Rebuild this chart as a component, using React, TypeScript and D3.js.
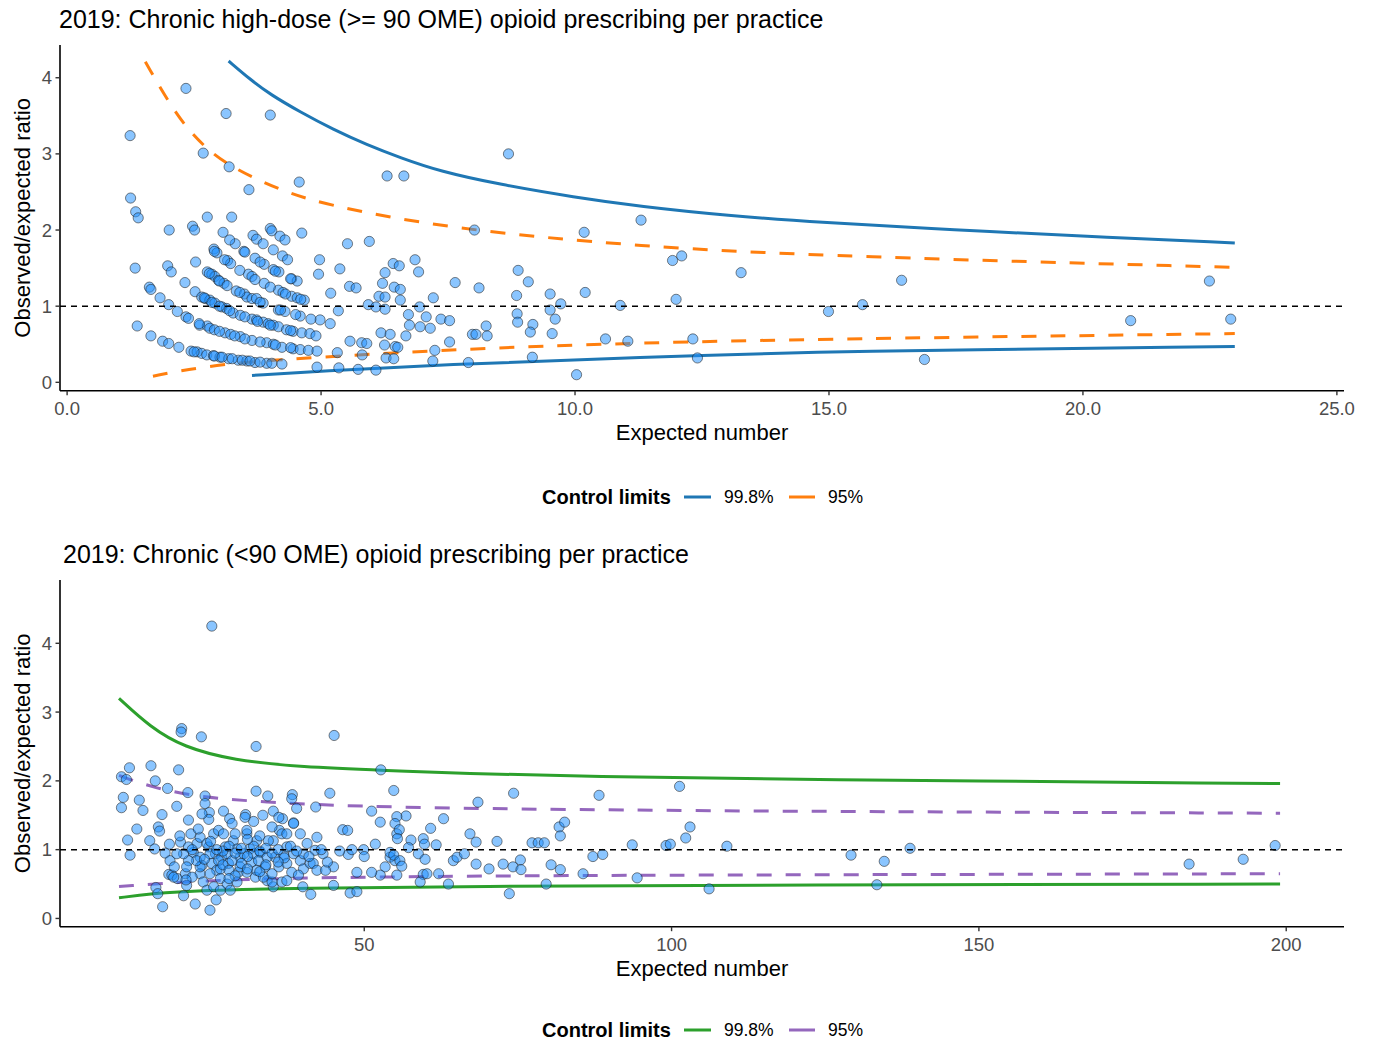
import React, { useEffect } from 'react';
import * as d3 from 'd3';

const topTitle = "2019: Chronic high-dose (>= 90 OME) opioid prescribing per practice";
const bottomTitle = "2019: Chronic (<90 OME) opioid prescribing per practice";
const xAxisTitle = "Expected number";
const yAxisTitle = "Observed/expected ratio";
const legendTitle = "Control limits";
const legendLabels = ["99.8%", "95%"];

const topXTicks = [0, 5, 10, 15, 20, 25];
const topYTicks = [0, 1, 2, 3, 4];
const bottomXTicks = [50, 100, 150, 200];
const bottomYTicks = [0, 1, 2, 3, 4];

// Top panel: practices (expected number, observed/expected ratio)
const topPoints: [number, number][] = [
  [1.24,3.24],[2.34,3.86],[3.13,3.53],[4.0,3.51],[2.68,3.01],[3.19,2.83],[3.58,2.53],[4.57,2.63],[6.3,2.71],[6.63,2.71],[8.69,3.0],
  [1.25,2.42],[1.35,2.24],[1.40,2.16],[1.34,1.50],[1.38,0.74],[1.62,1.25],[1.65,1.22],[1.65,0.61],[1.83,1.11],[1.88,0.54],[2.0,0.51],
  [2.0,1.02],[2.01,2.0],[1.98,1.53],[2.05,1.45],[2.17,0.93],[2.2,0.46],[2.32,1.31],[2.34,0.86],[2.39,0.84],[2.47,2.05],[2.51,2.0],
  [2.53,1.58],[2.44,0.41],[2.52,1.19],[2.61,0.75],[2.56,0.40],[2.65,0.38],[2.65,1.12],[2.72,1.10],[2.76,2.17],[2.76,1.45],[2.85,1.42],
  [2.76,0.74],[2.81,0.71],[2.75,0.36],[2.88,0.35],[2.89,1.75],[2.95,1.70],[2.91,1.39],[2.98,1.34],[3.09,1.30],[2.81,1.08],[2.91,1.04],
  [3.05,0.99],[3.14,0.97],[3.27,0.91],[3.41,0.88],[3.11,0.65],[3.22,0.63],[3.41,0.60],[3.64,0.55],[3.01,0.33],[3.18,0.31],[3.37,0.29],
  [3.54,0.28],[3.7,0.26],[3.07,1.97],[3.24,2.17],[3.16,1.60],[3.22,1.56],[3.31,1.82],[3.33,1.20],[3.48,1.72],[3.49,1.16],[3.57,1.42],
  [3.64,1.39],[3.54,1.12],[3.64,1.10],[3.73,1.10],[3.66,1.93],[3.73,1.88],[3.86,1.82],[3.70,1.63],[3.88,1.55],[3.88,1.30],[3.86,1.04],
  [3.64,0.83],[3.73,0.82],[3.86,0.79],[3.96,0.77],[4.06,0.75],[4.16,0.73],[3.93,0.52],[4.06,0.50],[4.23,0.46],[3.93,0.25],[4.03,0.25],
  [4.23,0.24],[4.0,2.02],[4.03,1.99],[4.19,1.92],[4.29,1.87],[4.06,1.74],[4.24,1.66],[4.34,1.61],[4.06,1.48],[4.17,1.45],[4.42,1.36],
  [4.53,1.33],[4.16,1.21],[4.25,1.18],[4.42,1.13],[4.53,1.11],[4.67,1.08],[4.16,0.95],[4.29,0.93],[4.59,0.87],[4.32,0.69],[4.45,0.67],
  [4.62,0.65],[4.78,0.64],[4.45,0.44],[4.59,0.43],[4.75,0.42],[4.92,0.41],[4.62,1.96],[4.97,1.61],[4.95,1.42],[5.19,1.17],[4.98,0.82],
  [5.18,0.77],[4.92,0.20],[5.52,1.82],[5.95,1.85],[5.37,1.49],[5.56,1.26],[5.69,1.24],[5.34,0.94],[5.32,0.39],[5.57,0.54],[5.8,0.52],
  [5.9,0.51],[5.81,0.36],[5.35,0.19],[5.73,0.17],[6.08,0.16],[5.93,1.02],[6.08,0.99],[6.26,0.96],[6.14,1.13],[6.26,1.12],[6.21,1.30],
  [6.26,1.44],[6.42,1.56],[6.54,1.53],[6.44,1.25],[6.56,1.22],[6.56,1.08],[6.18,0.65],[6.36,0.63],[6.25,0.49],[6.46,0.47],[6.51,0.46],
  [6.28,0.32],[6.43,0.31],[6.85,1.61],[6.92,1.45],[7.21,1.11],[6.72,0.89],[7.07,0.86],[6.74,0.75],[6.95,0.73],[7.15,0.71],[6.67,0.61],
  [6.94,0.99],[7.36,0.83],[7.53,0.81],[7.24,0.42],[7.2,0.28],[7.53,0.53],[7.64,1.31],
  [8.02,2.0],[10.18,1.97],[11.3,2.13],[11.92,1.60],[12.1,1.66],[13.27,1.44],[8.88,1.47],[9.08,1.32],[8.11,1.24],[8.85,1.14],[9.51,1.16],
  [10.2,1.18],[9.72,1.03],[10.89,1.01],[11.99,1.09],[14.99,0.93],[9.51,0.95],[9.61,0.83],[8.86,0.90],[8.87,0.79],[9.17,0.76],[9.12,0.66],
  [8.25,0.74],[7.98,0.63],[8.05,0.63],[8.27,0.61],[9.55,0.64],[10.6,0.57],[11.04,0.54],[12.32,0.57],[7.9,0.26],[9.16,0.33],[12.41,0.32],
  [10.03,0.10],[16.43,1.34],[22.49,1.33],[15.66,1.02],[20.94,0.81],[22.91,0.83],[16.88,0.30],
  // overlapping practices along the arcs
  [2.9,0.345],[3.05,0.33],[3.25,0.31],[3.45,0.29],[3.6,0.28],[3.8,0.265],[2.5,0.40],
  [2.6,0.77],[2.9,0.69],[3.0,0.67],[3.3,0.61],[3.5,0.57],[3.8,0.53],[4.1,0.49],[4.4,0.455],
  [2.7,1.11],[2.85,1.05],[3.0,1.0],[3.2,0.94],[3.5,0.86],[3.75,0.80],[4.0,0.75],[4.4,0.68],[4.9,0.61],
  [2.8,1.43],[3.0,1.33],[3.15,1.27],[3.4,1.18],[3.8,1.05],[4.2,0.95],[4.5,0.89],[4.8,0.83],
  [2.9,1.72],[3.1,1.61],[3.4,1.47],[3.7,1.35],[4.0,1.25],[4.3,1.16],[4.6,1.09],
  [3.2,1.87],[3.5,1.71],[3.8,1.58],[4.1,1.46],[4.4,1.36]
];

const topUpper998: [number, number][] = [[3.18,4.22],[3.6,3.98],[4.0,3.78],[4.59,3.55],[5.24,3.32],[5.9,3.12],[6.56,2.95],[7.34,2.77],[8.5,2.6],[10.0,2.43],[11.28,2.31],[13.0,2.19],[14.82,2.10],[17.5,2.0],[20.0,1.92],[22.99,1.83]];
const topLower998: [number, number][] = [[3.64,0.09],[5.0,0.15],[7.34,0.23],[11.28,0.33],[15.22,0.41],[22.99,0.47]];
const topUpper95: [number, number][] = [[1.54,4.21],[2.16,3.49],[2.68,3.10],[3.21,2.83],[4.26,2.50],[5.24,2.31],[7.5,2.02],[11.28,1.78],[15.22,1.65],[22.99,1.51]];
const topLower95: [number, number][] = [[1.69,0.08],[2.36,0.17],[3.27,0.25],[4.06,0.29],[5.24,0.34],[7.5,0.43],[11.28,0.52],[14.99,0.57],[22.99,0.64]];

// Bottom panel
const bottomPoints: [number, number][] = [
  [25.2,4.25],[20.3,2.76],[20.2,2.71],[23.5,2.64],[32.4,2.50],[45.1,2.66],[52.7,2.16],[11.8,2.19],[15.3,2.22],[19.8,2.16],[10.5,2.06],
  [11.3,2.02],[16.0,2.0],[18.0,1.89],[21.3,1.83],[24.1,1.78],[32.4,1.85],[34.3,1.78],[38.3,1.80],[38.2,1.74],[44.4,1.82],[54.8,1.86],
  [10.8,1.76],[10.5,1.61],[13.4,1.72],[14.0,1.57],[19.5,1.63],[17.1,1.51],[24.1,1.67],[24.8,1.54],[24.7,1.44],[23.6,1.52],[27.1,1.56],
  [28.1,1.45],[30.7,1.51],[32.0,1.41],[33.5,1.50],[35.2,1.56],[36.7,1.45],[36.2,1.28],[38.5,1.39],[42.1,1.62],[51.2,1.56],[46.5,1.29],
  [47.3,1.28],[13.0,1.30],[11.5,1.14],[11.9,0.92],[16.5,1.33],[16.7,1.27],[15.1,1.13],[15.9,1.01],[18.3,1.08],[17.6,0.95],[18.4,0.84],
  [18.2,0.64],[16.1,0.45],[16.4,0.36],[17.2,0.17],[18.7,0.63],[19.6,0.58],[20.9,0.65],[21.1,0.48],[20.6,0.33],[22.5,0.21],[24.9,0.12],
  [25.9,0.27],[20.1,1.11],[21.4,1.43],[21.8,1.23],[22.8,1.09],[23.3,1.18],[22.2,0.96],[23.3,0.89],[23.6,0.77],[23.3,0.65],[23.8,0.53],
  [24.4,0.41],[24.7,1.04],[25.5,1.23],[26.3,1.28],[27.1,1.23],[25.8,0.94],[25.2,0.80],[26.0,0.70],[24.9,0.65],[26.6,0.58],[27.4,1.04],
  [26.8,0.89],[27.9,0.80],[27.7,0.50],[28.7,1.13],[28.5,1.38],[29.0,1.23],[29.8,0.89],[29.5,0.67],[29.3,0.53],[30.6,1.47],[30.9,1.23],
  [31.4,1.01],[31.7,0.82],[30.9,0.67],[32.3,0.60],[32.5,1.13],[33.1,0.96],[33.9,0.75],[34.2,0.55],[35.2,1.13],[35.5,0.89],[36.1,0.75],
  [36.9,0.92],[37.4,0.80],[38.2,0.67],[35.2,0.46],[36.6,0.53],[39.0,1.60],[38.5,1.38],[39.6,0.84],[40.1,0.72],[41.2,0.80],[42.0,0.99],
  [43.3,0.94],[42.3,1.18],[45.0,0.75],[47.4,0.93],[48.8,0.67],[47.7,0.37],[48.8,0.39],[40.0,0.46],[41.3,0.35],[45.0,0.48],[49.9,1.0],
  [51.8,1.08],[52.6,1.40],[54.2,0.89],[55.3,1.23],[53.4,0.75],[52.6,0.63],[51.2,0.67],[55.0,0.84],
  [24.9,0.94],[26.3,0.84],[27.7,0.94],[28.5,0.84],[29.3,1.01],[32.0,0.94],[32.8,0.84],[34.2,0.89],[34.4,1.13],[36.6,1.23],[37.4,1.04],
  [38.5,0.94],[30.9,1.28],[30.4,0.94],[29.8,0.75],[32.5,0.70],[33.6,0.60],[26.6,0.72],[23.3,0.75],[22.7,0.84],[21.4,0.84],[24.4,1.09],
  [21.4,1.04],[20.6,0.94],[19.5,0.94],[19.1,0.75],[21.1,0.75],[22.0,0.60],[25.5,0.46],[26.6,0.41],[28.2,0.41],[40.1,0.94],[40.7,1.09],
  [41.7,0.80],[42.3,0.70],[43.7,0.70],[39.3,0.63],[37.4,0.55],[35.0,0.53],[36.1,1.47],[37.4,1.23],[39.6,1.23],
  [27,0.98],[28,1.05],[29,0.95],[30,1.02],[31,0.9],[32,1.05],[33,0.98],[34,1.02],[35,0.95],[36,1.0],[37,0.88],[38,1.05],[25,1.12],
  [26,1.0],[27,0.78],[28,0.7],[29,0.62],[30,0.8],[31,0.72],[33,0.68],[34,0.78],[35,0.65],[31,1.15],[33,1.2],[35,1.33],[36,0.82],
  [39,0.98],[41,0.9],[43,1.0],[44,0.82],[46,0.98],[48,1.0],[50,0.9],[22,1.0],[23,1.3],[24,0.86],[20,1.2],[19,0.6],[21,0.56],[28,0.58],
  [74.3,1.82],[68.5,1.69],[88.2,1.79],[101.3,1.92],[62.9,1.45],[56.8,1.49],[55.3,1.48],[55.0,1.38],[55.7,1.29],[60.8,1.31],[67.2,1.23],
  [68.2,1.11],[55.4,1.16],[57.6,1.14],[59.6,1.16],[59.8,1.08],[57.2,1.03],[61.7,1.07],[71.6,1.12],[77.3,1.10],[78.3,1.10],[79.3,1.10],
  [81.7,1.33],[82.6,1.40],[81.9,1.20],[93.6,1.07],[99.1,1.06],[99.8,1.08],[102.3,1.17],[103.0,1.33],[109.0,1.05],[54.2,0.96],[54.8,0.92],
  [55.8,0.84],[56.1,0.76],[58.8,0.94],[59.9,0.86],[64.5,0.84],[65.1,0.89],[66.3,0.94],[68.2,0.79],[70.3,0.72],[72.6,0.79],[74.2,0.75],
  [75.4,0.85],[75.5,0.71],[80.4,0.78],[81.9,0.71],[87.2,0.90],[88.8,0.93],[59.6,0.64],[60.2,0.65],[62.1,0.65],[59.1,0.53],[63.7,0.50],
  [79.6,0.50],[85.6,0.65],[94.4,0.59],[73.6,0.36],[106.1,0.43],[55.3,0.63],
  [129.2,0.92],[134.6,0.83],[138.8,1.02],[133.4,0.49],[184.2,0.79],[193.0,0.86],[198.2,1.06]
];

const bottomUpper998: [number, number][] = [[10.1,3.20],[15.2,2.78],[20.6,2.49],[28.7,2.30],[39.6,2.20],[54.2,2.15],[65.6,2.11],[86.8,2.06],[119.3,2.02],[199,1.96]];
const bottomLower998: [number, number][] = [[10.1,0.30],[15.2,0.36],[23.3,0.41],[39.6,0.44],[65.6,0.465],[119.3,0.49],[199,0.50]];
const bottomUpper95: [number, number][] = [[10.1,2.08],[15.2,1.91],[23.3,1.76],[34.2,1.69],[45.0,1.64],[65.6,1.60],[86.8,1.58],[119.3,1.556],[199,1.53]];
const bottomLower95: [number, number][] = [[10.1,0.465],[23.3,0.55],[39.6,0.59],[65.6,0.615],[86.8,0.625],[119.3,0.635],[199,0.65]];

const FONT = '"Liberation Sans", Arial, Helvetica, sans-serif';

type PanelProps = {
  title: string; titleX: number; titleY: number;
  plotTop: number; plotBottom: number;
  xDomain: [number, number]; yDomain: [number, number];
  xTicks: number[]; yTicks: number[]; xFmt: (v: number) => string;
  points: [number, number][];
  upper998: [number, number][]; lower998: [number, number][];
  upper95: [number, number][]; lower95: [number, number][];
  c998: string; c95: string;
  tickLabelY: number; axisTitleY: number; legendY: number;
};

function Panel(p: PanelProps) {
  const L = 60, R = 1344;
  const x = d3.scaleLinear().domain(p.xDomain).range([L, R]);
  const y = d3.scaleLinear().domain(p.yDomain).range([p.plotBottom, p.plotTop]);
  const line = d3.line<[number, number]>().x(d => x(d[0])).y(d => y(d[1])).curve(d3.curveBasis);
  const midY = (p.plotTop + p.plotBottom) / 2;
  return (
    <g>
      <text x={p.titleX} y={p.titleY} fontSize={25} fill="#000" fontFamily={FONT}>{p.title}</text>
      {/* control limits */}
      <path d={line(p.upper998) || ''} fill="none" stroke={p.c998} strokeWidth={3} />
      <path d={line(p.lower998) || ''} fill="none" stroke={p.c998} strokeWidth={3} />
      <path d={line(p.upper95) || ''} fill="none" stroke={p.c95} strokeWidth={3} strokeDasharray="15 14" />
      <path d={line(p.lower95) || ''} fill="none" stroke={p.c95} strokeWidth={3} strokeDasharray="15 14" />
      {/* points */}
      {p.points.map((d, i) => (
        <circle key={i} cx={x(d[0])} cy={y(d[1])} r={5.1} fill="#1E90FF" fillOpacity={0.52}
          stroke="#1a1a1a" strokeOpacity={0.6} strokeWidth={0.9} />
      ))}
      {/* reference line */}
      <line x1={L} x2={R} y1={y(1)} y2={y(1)} stroke="#000" strokeWidth={1.5} strokeDasharray="6 5" />
      {/* axes */}
      <line x1={L} x2={L} y1={p.plotTop} y2={p.plotBottom} stroke="#000" strokeWidth={1.6} />
      <line x1={L} x2={R} y1={p.plotBottom} y2={p.plotBottom} stroke="#000" strokeWidth={1.6} />
      {p.xTicks.map(t => (
        <g key={'x' + t}>
          <line x1={x(t)} x2={x(t)} y1={p.plotBottom} y2={p.plotBottom + 4.5} stroke="#333" strokeWidth={1.4} />
          <text x={x(t)} y={p.tickLabelY} textAnchor="middle" fontSize={18.5} fill="#4d4d4d" fontFamily={FONT}>{p.xFmt(t)}</text>
        </g>
      ))}
      {p.yTicks.map(t => (
        <g key={'y' + t}>
          <line x1={L - 4.5} x2={L} y1={y(t)} y2={y(t)} stroke="#333" strokeWidth={1.4} />
          <text x={L - 8} y={y(t)} dy="0.35em" textAnchor="end" fontSize={18.5} fill="#4d4d4d" fontFamily={FONT}>{t}</text>
        </g>
      ))}
      <text x={(L + R) / 2} y={p.axisTitleY} textAnchor="middle" fontSize={22} fill="#000" fontFamily={FONT}>{xAxisTitle}</text>
      <text transform={`translate(30,${midY}) rotate(-90)`} textAnchor="middle" fontSize={22} fill="#000" fontFamily={FONT}>{yAxisTitle}</text>
      {/* legend */}
      <text x={542} y={p.legendY} dy="0.35em" fontSize={20} fontWeight="bold" fill="#000" fontFamily={FONT}>{legendTitle}</text>
      <line x1={684} x2={711} y1={p.legendY} y2={p.legendY} stroke={p.c998} strokeWidth={3} />
      <text x={724} y={p.legendY} dy="0.35em" fontSize={17.5} fill="#000" fontFamily={FONT}>{legendLabels[0]}</text>
      <line x1={789} x2={815} y1={p.legendY} y2={p.legendY} stroke={p.c95} strokeWidth={3} />
      <text x={828} y={p.legendY} dy="0.35em" fontSize={17.5} fill="#000" fontFamily={FONT}>{legendLabels[1]}</text>
    </g>
  );
}

export default function App() {
  useEffect(() => { document.body.style.margin = '0'; }, []);
  const f1 = d3.format('.1f');
  const f0 = d3.format('d');
  return (
    <svg width={1375} height={1042} style={{ display: 'block', background: '#fff' }}>
      <rect x={0} y={0} width={1375} height={1042} fill="#fff" />
      <Panel title={topTitle} titleX={59} titleY={28} plotTop={45} plotBottom={390.7}
        xDomain={[-0.14, 25.14]} yDomain={[-0.11, 4.43]} xTicks={topXTicks} yTicks={topYTicks} xFmt={f1}
        points={topPoints} upper998={topUpper998} lower998={topLower998} upper95={topUpper95} lower95={topLower95}
        c998="#1F77B4" c95="#FF7F0E" tickLabelY={415} axisTitleY={440} legendY={497} />
      <Panel title={bottomTitle} titleX={63} titleY={563} plotTop={580} plotBottom={926.7}
        xDomain={[0.5, 209.4]} yDomain={[-0.12, 4.92]} xTicks={bottomXTicks} yTicks={bottomYTicks} xFmt={f0}
        points={bottomPoints} upper998={bottomUpper998} lower998={bottomLower998} upper95={bottomUpper95} lower95={bottomLower95}
        c998="#2CA02C" c95="#9467BD" tickLabelY={951} axisTitleY={976} legendY={1030} />
    </svg>
  );
}
